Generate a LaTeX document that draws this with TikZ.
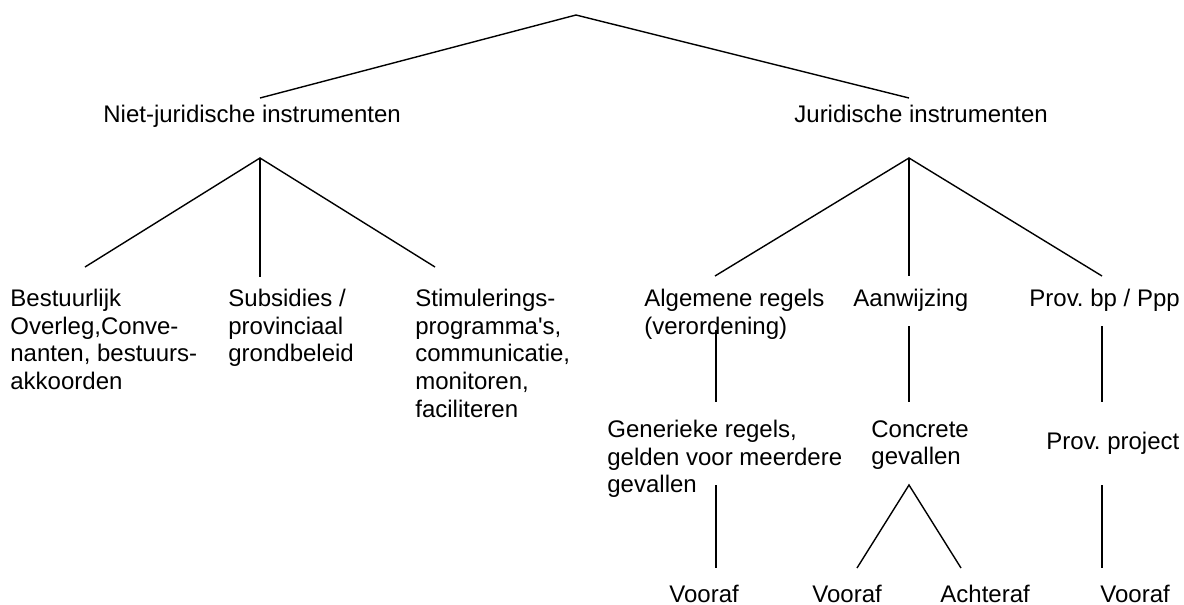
\documentclass[tikz,border=0pt]{standalone}
\usepackage{fontspec}
\setmainfont{Liberation Sans}[Ligatures=TeXOff]
\usetikzlibrary{positioning}
\frenchspacing

\begin{document}
\begin{tikzpicture}[
  x=0.5pt, y=-0.5pt,
  font=\fontsize{12}{13.8}\selectfont,
  label/.style={
    inner sep=0pt,
    align=left,
    anchor=north west
  },
  branch/.style={
    line width=0.7pt,
    draw=black
  }
]
  \useasboundingbox (0,0) rectangle (1184,605);

  % --- Level 1 ---
  \node[label] (niet) at (103,105) {Niet-juridische instrumenten};
  \node[label] (jur)  at (794,105) {Juridische instrumenten};

  % --- Level 2: niet-juridisch ---
  \node[label] (overleg)  at (10,289)  {Bestuurlijk\\Overleg,Conve-\\nanten, bestuurs-\\akkoorden};
  \node[label] (subsidie) at (228,289) {Subsidies /\\provinciaal\\grondbeleid};
  \node[label] (stimul)   at (415,289) {Stimulerings-\\programma's,\\communicatie,\\monitoren,\\faciliteren};

  % --- Level 2: juridisch ---
  \node[label] (regels)   at (644,289)  {Algemene regels\\(verordening)};
  \node[label] (aanwijz)  at (853,289)  {Aanwijzing};
  \node[label] (provbp)   at (1029,289) {Prov. bp / Ppp};

  % --- Level 3 ---
  \node[label] (generiek) at (607,420)  {Generieke regels,\\gelden voor meerdere\\gevallen};
  \node[label] (concreet) at (871,420)  {Concrete\\gevallen};
  \node[label] (project)  at (1046,432) {Prov. project};

  % --- Level 4 ---
  \node[label] (vooraf1)  at (669,585)  {Vooraf};
  \node[label] (vooraf2)  at (812,585)  {Vooraf};
  \node[label] (achteraf) at (940,585)  {Achteraf};
  \node[label] (vooraf3)  at (1100,585) {Vooraf};

  % Branch points
  \coordinate (root)     at (576,15);
  \coordinate (nietin)   at (260,98);
  \coordinate (jurin)    at (909,98);
  \coordinate (nietfork) at (260,158);
  \coordinate (jurfork)  at (909,158);
  \coordinate (overlegin)  at (85,267);
  \coordinate (subsidiein) at (260,277);
  \coordinate (stimulin)   at (435,267);
  \coordinate (regelsin)   at (715,276);
  \coordinate (aanwijzin)  at (909,276);
  \coordinate (provbpin)   at (1102,276);
  \coordinate (regelsout)  at (716,330);
  \coordinate (aanwijzout) at (909,326);
  \coordinate (provbpout)  at (1102,326);
  \coordinate (generiekin) at (716,402);
  \coordinate (concreetin) at (909,402);
  \coordinate (projectin)  at (1102,402);
  \coordinate (generiekout) at (716,485);
  \coordinate (concreetout) at (909,485);
  \coordinate (projectout)  at (1102,485);
  \coordinate (vooraf1in)  at (716,568);
  \coordinate (vooraf2in)  at (857,568);
  \coordinate (achterafin) at (961,568);
  \coordinate (vooraf3in)  at (1102,568);

  % Connectors
  \draw[branch] (nietin) -- (root) -- (jurin);
  \draw[branch] (overlegin) -- (nietfork) -- (stimulin);
  \draw[branch] (nietfork) -- (subsidiein);
  \draw[branch] (regelsin) -- (jurfork) -- (provbpin);
  \draw[branch] (jurfork) -- (aanwijzin);
  \draw[branch] (regelsout) -- (generiekin);
  \draw[branch] (aanwijzout) -- (concreetin);
  \draw[branch] (provbpout) -- (projectin);
  \draw[branch] (generiekout) -- (vooraf1in);
  \draw[branch] (vooraf2in) -- (concreetout) -- (achterafin);
  \draw[branch] (projectout) -- (vooraf3in);

\end{tikzpicture}
\end{document}
